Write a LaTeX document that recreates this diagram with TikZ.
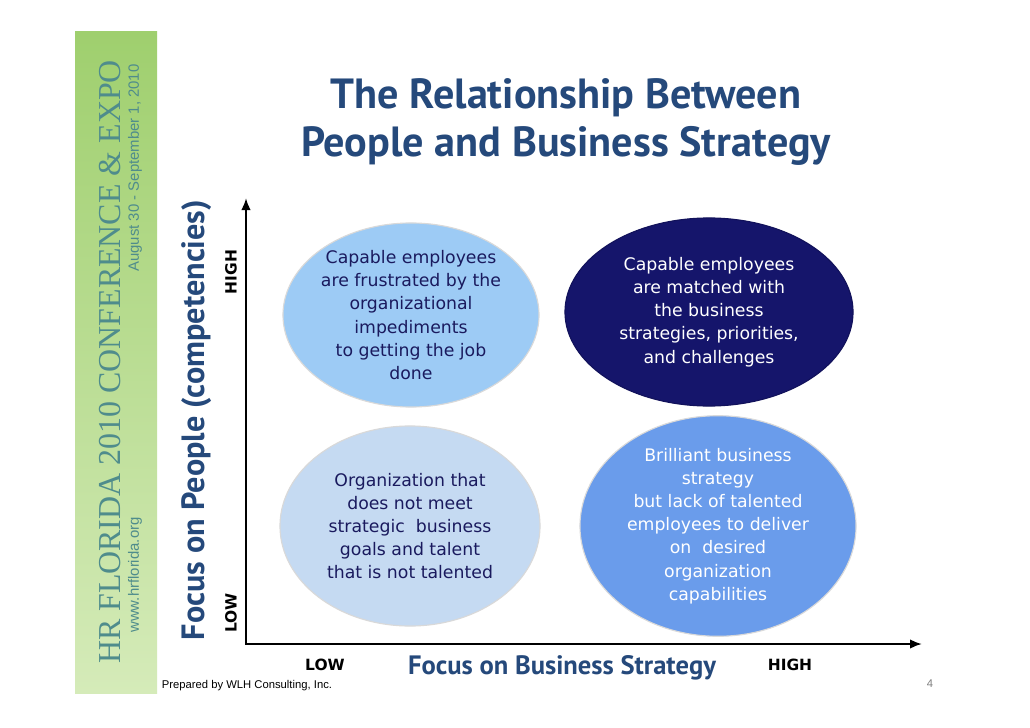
\documentclass[tikz,border=0pt]{standalone}
\usepackage{fontspec}
\setmainfont{DejaVu Sans}
\newfontfamily\headfont{PT Sans}
\newfontfamily\bandserif{Liberation Serif}
\newfontfamily\bandsans{Liberation Sans}
\usetikzlibrary{arrows.meta,shapes.geometric}

\definecolor{titleblue}{HTML}{25497B}
\definecolor{inkblue}{HTML}{1A1A5E}
\definecolor{skyfill}{HTML}{9DCBF5}
\definecolor{palefill}{HTML}{C5DAF2}
\definecolor{navyfill}{HTML}{15156B}
\definecolor{midfill}{HTML}{6A9CEB}
\definecolor{bandtop}{HTML}{9FCF6E}
\definecolor{bandbottom}{HTML}{D5EBB9}
\definecolor{bandink}{HTML}{4F8C8C}

\begin{document}
\begin{tikzpicture}[
  x=0.025cm, y=-0.025cm,
  oval/.style={ellipse,inner sep=0pt,align=center,draw=white!70!gray,line width=0.8pt,
    font=\fontsize{12.3}{16.5}\selectfont},
  darkoval/.style={oval,draw=navyfill!85!black,text=white},
  lightoval/.style={oval,text=inkblue},
  axis/.style={{Latex[length=3mm,width=2.4mm]}-{Latex[length=3mm,width=2.4mm]},line width=1.6pt},
  level/.style={font=\bfseries\fontsize{11}{11}\selectfont},
  axislabel/.style={text=titleblue,font=\headfont\bfseries}
]
\useasboundingbox[fill=white] (0,0) rectangle (1030,728);

% conference band
\shade[top color=bandtop,bottom color=bandbottom] (75,32) rectangle (157,693);
\node[rotate=90,text=bandink,font=\bandserif\fontsize{22.7}{22.7}\selectfont] (band) at (110,362) {HR FLORIDA 2010 CONFERENCE \& EXPO};
\node[rotate=90,text=bandink,font=\bandsans\fontsize{10.6}{10.6}\selectfont] (dates) at (135,168) {August 30 - September 1, 2010};
\node[rotate=90,text=bandink,font=\bandsans\fontsize{10.6}{10.6}\selectfont] (web) at (135,575) {www.hrflorida.org};

% title
\node[text=titleblue,font=\headfont\bfseries\fontsize{30}{33.5}\selectfont,align=center] (title) at (566,122) {The Relationship Between\\People and Business Strategy};

% axes
\coordinate (origin) at (246,644);
\coordinate (ytop) at (246,198);
\coordinate (xend) at (922,644);
\draw[axis] (ytop) -- (origin) -- (xend);

\node[rotate=90,axislabel,font=\headfont\bfseries\fontsize{22.9}{22.9}\selectfont] (people) at (197,420) {Focus on People (competencies)};
\node[rotate=90,level] (yhigh) at (231,272) {HIGH};
\node[rotate=90,level] (ylow) at (231,613) {LOW};
\node[level] (xlow) at (325,665) {LOW};
\node[axislabel,font=\headfont\bfseries\fontsize{18.9}{18.9}\selectfont] (business) at (562,668) {Focus on Business Strategy};
\node[level] (xhigh) at (790,665) {HIGH};

% quadrants
\node[lightoval,fill=skyfill,minimum width=6.4cm,minimum height=4.6cm] (frustrated) at (411,315) {Capable employees\\are frustrated by the\\organizational\\impediments\\to getting the job\\done};
\node[darkoval,fill=navyfill,minimum width=7.2cm,minimum height=4.7cm] (matched) at (709,312) {Capable employees\\are matched with\\the business\\strategies, priorities,\\and challenges};
\node[lightoval,fill=palefill,minimum width=6.5cm,minimum height=5cm] (unmet) at (410,526) {Organization that\\does not meet\\strategic\ \ business\\goals and talent\\that is not talented};
\node[oval,fill=midfill,text=white,minimum width=6.9cm,minimum height=5.1cm] (brilliant) at (718,526) {Brilliant business\\strategy\\but lack of talented\\employees to deliver\\on\ \ desired\\organization\\capabilities};

% footer
\node[anchor=west,font=\bandsans\fontsize{8}{8}\selectfont] (prepared) at (157,686) {Prepared by WLH Consulting, Inc.};
\node[text=gray,font=\bandsans\fontsize{8}{8}\selectfont] (page) at (930,684) {4};
\end{tikzpicture}
\end{document}
